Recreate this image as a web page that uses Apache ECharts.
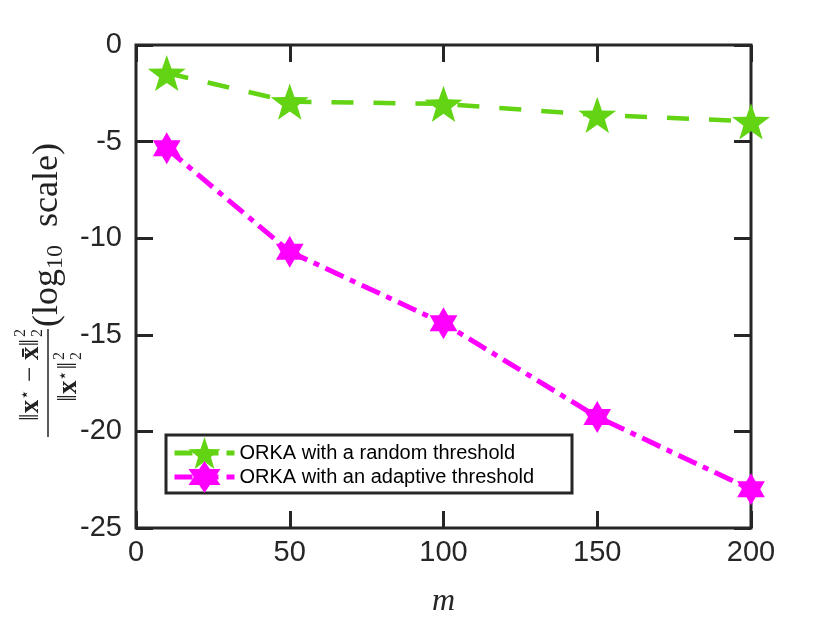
<!DOCTYPE html>
<html>
<head>
<meta charset="utf-8">
<script src="https://cdn.jsdelivr.net/npm/echarts@6/dist/echarts.min.js"></script>
<style>html,body{margin:0;padding:0;background:#fff;}#c{width:830px;height:623px;}</style>
</head>
<body>
<div id="c"></div>
<script>
const mValues = [10, 50, 100, 150, 200];
const randomThreshold = [-1.45, -2.93, -3.05, -3.62, -3.95];
const adaptiveThreshold = [-5.35, -10.7, -14.4, -19.25, -23.0];
const seriesNames = ['ORKA with a random threshold', 'ORKA with an adaptive threshold'];
const xTicks = {min: 0, max: 200, interval: 50};
const yTicks = {min: -25, max: 0, interval: 5};

function starPath(points, inner) {
  let d = '';
  for (let i = 0; i < points * 2; i++) {
    const r = i % 2 === 0 ? 100 : 100 * inner;
    const a = -Math.PI / 2 + i * Math.PI / points;
    d += (i === 0 ? 'M' : 'L') + (r * Math.cos(a)).toFixed(2) + ' ' + (r * Math.sin(a)).toFixed(2) + ' ';
  }
  return 'path://' + d + 'Z';
}

const axisColor = '#262626';
const sans = 'Liberation Sans, Helvetica, Arial, sans-serif';
const serif = 'Liberation Serif, DejaVu Serif, serif';
const green = '#62D414';
const magenta = '#FF00FF';

const chart = echarts.init(document.getElementById('c'), null, {renderer: 'canvas'});

function tickStyle() { return {show: true, inside: true, length: 17, lineStyle: {color: axisColor, width: 3}}; }
const hiddenLine = () => ({show: false, onZero: false});

const starSym = starPath(5, 0.4);
const hexSym = starPath(6, 0.577);

chart.setOption({
  backgroundColor: '#fff',
  animation: false,
  grid: {left: 136, right: 79, top: 45, bottom: 95, show: true, borderColor: axisColor, borderWidth: 3, backgroundColor: 'transparent'},
  xAxis: [
    {type: 'value', min: xTicks.min, max: xTicks.max, interval: xTicks.interval, position: 'bottom',
     axisLine: hiddenLine(), axisTick: tickStyle(), splitLine: {show: false},
     axisLabel: {fontSize: 29, color: axisColor, fontFamily: sans, margin: 10},
     name: 'm', nameLocation: 'middle', nameGap: 58,
     nameTextStyle: {fontSize: 32, fontStyle: 'italic', fontFamily: serif, color: axisColor}},
    {type: 'value', min: xTicks.min, max: xTicks.max, interval: xTicks.interval, position: 'top',
     axisLine: hiddenLine(), axisTick: tickStyle(), splitLine: {show: false}, axisLabel: {show: false}}
  ],
  yAxis: [
    {type: 'value', min: yTicks.min, max: yTicks.max, interval: yTicks.interval, position: 'left',
     axisLine: hiddenLine(), axisTick: tickStyle(), splitLine: {show: false},
     axisLabel: {fontSize: 29, color: axisColor, fontFamily: sans, margin: 14}},
    {type: 'value', min: yTicks.min, max: yTicks.max, interval: yTicks.interval, position: 'right',
     axisLine: hiddenLine(), axisTick: tickStyle(), splitLine: {show: false}, axisLabel: {show: false}}
  ],
  legend: {
    orient: 'vertical', left: 172, top: 437, z: 6,
    padding: 0, itemGap: -8, itemWidth: 60, itemHeight: 40,
    textStyle: {fontSize: 20, color: '#000', fontFamily: sans},
    data: [
      {name: seriesNames[0], itemStyle: {color: green}, lineStyle: {color: green, width: 5, type: [18, 8]}},
      {name: seriesNames[1], itemStyle: {color: magenta}, lineStyle: {color: magenta, width: 5, type: [18, 8]}}
    ]
  },
  graphic: [
    {type: 'rect', z: 5, shape: {x: 166, y: 435, width: 406, height: 58},
     style: {fill: '#fff', stroke: axisColor, lineWidth: 3}},
    {
    type: 'group', x: 48, y: 384, rotation: Math.PI / 2,
    children: [
      {type: 'line', shape: {x1: -53, y1: 0, x2: 55, y2: 0}, style: {stroke: '#222', lineWidth: 1.5}},
      {type: 'text', x: 45, y: -17, style: {
        text: '{n|‖}{b|x}{st|⋆}{n| − }{b|x̄}{n|‖}', align: 'right', verticalAlign: 'middle',
        rich: {n: {fontSize: 27, fontFamily: serif, fill: '#222'}, b: {fontSize: 27, fontWeight: 'bold', fontFamily: serif, fill: '#222'},
               st: {fontSize: 17, fontFamily: serif, fill: '#222', verticalAlign: 'top', padding: [0,0,10,0]}}}},
      {type: 'text', x: 47, y: -27, style: {text: '2', fontSize: 16, fontFamily: serif, fill: '#222', align: 'left', verticalAlign: 'middle'}},
      {type: 'text', x: 47, y: -10, style: {text: '2', fontSize: 16, fontFamily: serif, fill: '#222', align: 'left', verticalAlign: 'middle'}},
      {type: 'text', x: 22, y: 21, style: {
        text: '{n|‖}{b|x}{st|⋆}{n|‖}', align: 'right', verticalAlign: 'middle',
        rich: {n: {fontSize: 27, fontFamily: serif, fill: '#222'}, b: {fontSize: 27, fontWeight: 'bold', fontFamily: serif, fill: '#222'},
               st: {fontSize: 17, fontFamily: serif, fill: '#222', verticalAlign: 'top', padding: [0,0,10,0]}}}},
      {type: 'text', x: 24, y: 12, style: {text: '2', fontSize: 16, fontFamily: serif, fill: '#222', align: 'left', verticalAlign: 'middle'}},
      {type: 'text', x: 24, y: 29, style: {text: '2', fontSize: 16, fontFamily: serif, fill: '#222', align: 'left', verticalAlign: 'middle'}},
      {type: 'text', x: 57, y: 0, style: {
        text: '{t|(log}{s|10}{t|  scale)}', align: 'left', verticalAlign: 'middle',
        rich: {t: {fontSize: 36, fontFamily: serif, fill: '#222'}, s: {fontSize: 24, fontFamily: serif, fill: '#222', verticalAlign: 'bottom', padding: [15,0,0,0]}}}}
    ]
  }],
  series: [
    {name: seriesNames[0], type: 'line', data: mValues.map((m, i) => [m, randomThreshold[i]]),
     symbol: starSym, symbolSize: 38, symbolKeepAspect: true,
     itemStyle: {color: green}, lineStyle: {color: green, width: 4.5, type: [22, 20]}, z: 3},
    {name: seriesNames[1], type: 'line', data: mValues.map((m, i) => [m, adaptiveThreshold[i]]),
     symbol: hexSym, symbolSize: 32, symbolKeepAspect: true,
     itemStyle: {color: magenta}, lineStyle: {color: magenta, width: 5, type: [20, 7, 6, 7]}, z: 3}
  ]
});
</script>
</body>
</html>
